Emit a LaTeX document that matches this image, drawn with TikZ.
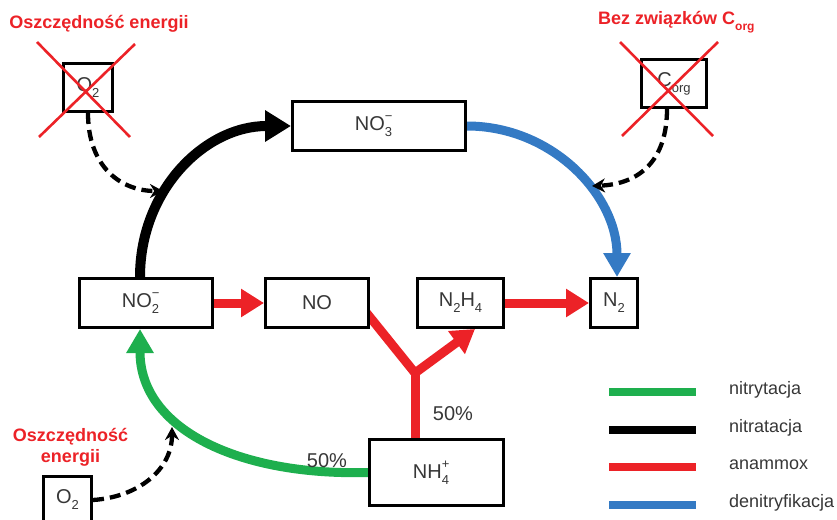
\documentclass[tikz,border=0pt]{standalone}
\usepackage{fontspec}
\setmainfont{Liberation Sans}
\usetikzlibrary{arrows.meta,backgrounds,calc}
\definecolor{cred}{RGB}{236,34,39}
\definecolor{cgreen}{RGB}{30,175,78}
\definecolor{cblue}{RGB}{52,122,196}
\definecolor{ctxt}{RGB}{55,55,55}
\newcommand\chsub[1]{\raisebox{-0.3em}{\fontsize{13pt}{13pt}\selectfont #1}}
\newcommand\chion[2]{\makebox[0pt][l]{\raisebox{0.5em}{\fontsize{13pt}{13pt}\selectfont #1}}\raisebox{-0.3em}{\fontsize{13pt}{13pt}\selectfont #2}}
\tikzset{
  box/.style={draw=black, line width=3pt, fill=white, inner sep=0pt, text=ctxt,
    font=\fontsize{20pt}{24pt}\selectfont},
  redtitle/.style={text=cred, font=\fontsize{18pt}{21pt}\selectfont\bfseries, inner sep=0pt},
  pct/.style={text=ctxt, font=\fontsize{20pt}{24pt}\selectfont, inner sep=0pt},
  legtext/.style={text=ctxt, font=\fontsize{18pt}{22pt}\selectfont, inner sep=0pt, anchor=west},
  legline/.style={line width=8pt},
  cross/.style={draw=cred, line width=2.6pt},
  dasharrow/.style={line width=4.3pt, dash pattern=on 11pt off 6pt, -{Stealth[length=13pt,width=14pt]}},
  blackflow/.style={line width=10pt, -{Triangle[length=26pt,width=30pt]}},
  blueflow/.style={draw=cblue, line width=9pt, -{Triangle[length=24pt,width=26pt]}},
  greenflow/.style={draw=cgreen, line width=9pt, -{Triangle[length=24pt,width=26pt]}},
  redflow/.style={draw=cred, line width=9pt, line join=miter, -{Triangle[length=23pt,width=27pt]}},
  redline/.style={draw=cred, line width=9pt},
}
\begin{document}
\begin{tikzpicture}[x=1pt,y=-1pt]
\useasboundingbox (0,0) rectangle (837,519);

% boxes
\node[box, minimum width=173pt, minimum height=49pt] (no3) at (379,126) {NO\chion{−}{3}\phantom{3}};
\node[box, minimum width=133pt, minimum height=49pt] (no2) at (146,303) {NO\chion{−}{2}\phantom{2}};
\node[box, minimum width=103pt, minimum height=49pt] (no) at (317,303) {NO};
\node[box, minimum width=86pt, minimum height=49pt] (n2h4) at (460.5,303) {N\chsub{2}H\chsub{4}};
\node[box, minimum width=47pt, minimum height=49pt] (n2) at (614,303) {N\chsub{2}};
\node[box, minimum width=134pt, minimum height=66pt] (nh4) at (436.5,472.5) {NH\chion{+}{4}\phantom{4}};
\node[box, minimum width=49pt, minimum height=48pt] (o2top) at (88,87.5) {O\chsub{2}};
\node[box, minimum width=65pt, minimum height=48pt] (corg) at (674,83.5) {C\chsub{org}};
\node[box, minimum width=48pt, minimum height=48pt] (o2bot) at (67.5,500) {O\chsub{2}};

% crosses
\draw[cross] (37,42) -- (130,137);
\draw[cross] (135,44) -- (39,137);
\draw[cross] (620,42) -- (713,136);
\draw[cross] (718,42) -- (622,136);

% titles
\node[redtitle] (t1) at (99,24) {Oszczędność energii};
\node[redtitle, anchor=west] (t2) at (598,22) {Bez związków C\raisebox{-0.3em}{\fontsize{12pt}{12pt}\selectfont org}};
\node[redtitle, align=center] (t3) at (70.5,447) {Oszczędność\\energii};

% percentages
\node[pct] (p1) at (327,461) {50\%};
\node[pct] (p2) at (453,414) {50\%};

\coordinate (j) at (415,373);
\coordinate (d1) at (163,191);
\coordinate (d2) at (592,186);
\coordinate (d3) at (172,427);

\begin{scope}[on background layer]
\draw[blackflow] ([xshift=-6pt]no2.north) .. controls (140,190) and (205,126) .. (no3.west);
\draw[blueflow] (no3.east) .. controls (552,126) and (617,195) .. ([xshift=3pt]n2.north);
\draw[greenflow] (nh4.west) .. controls (240,476) and (140,430) .. ([xshift=-6pt]no2.south);
\draw[redflow] (no2.east) -- (no.west);
\draw[redflow] (n2h4.east) -- (n2.west);
\draw[redline] (nh4.north -| j) -- (j);
\draw[redflow] ($(no.east)+(-9,3)$) -- (j) -- ([xshift=14.5pt]n2h4.south);
\end{scope}

% dashed arrows
\draw[dasharrow] (o2top.south) .. controls (88,168) and (122,191) .. (d1);
\draw[dasharrow] ([xshift=-7pt]corg.south) .. controls (667,160) and (640,184) .. (d2);
\draw[dasharrow] (o2bot.east) .. controls (138,497) and (172,470) .. (d3);

% legend
\coordinate (l1a) at (609,392); \coordinate (l1b) at (696,392);
\coordinate (l2a) at (609,430); \coordinate (l2b) at (696,430);
\coordinate (l3a) at (609,467); \coordinate (l3b) at (696,467);
\coordinate (l4a) at (609,505); \coordinate (l4b) at (696,505);
\draw[legline, cgreen] (l1a) -- (l1b);
\draw[legline, black] (l2a) -- (l2b);
\draw[legline, cred] (l3a) -- (l3b);
\draw[legline, cblue] (l4a) -- (l4b);
\node[legtext] (g1) at (729,390) {nitrytacja};
\node[legtext] (g2) at (729,428) {nitratacja};
\node[legtext] (g3) at (729,465) {anammox};
\node[legtext] (g4) at (729,503) {denitryfikacja};
\end{tikzpicture}
\end{document}
